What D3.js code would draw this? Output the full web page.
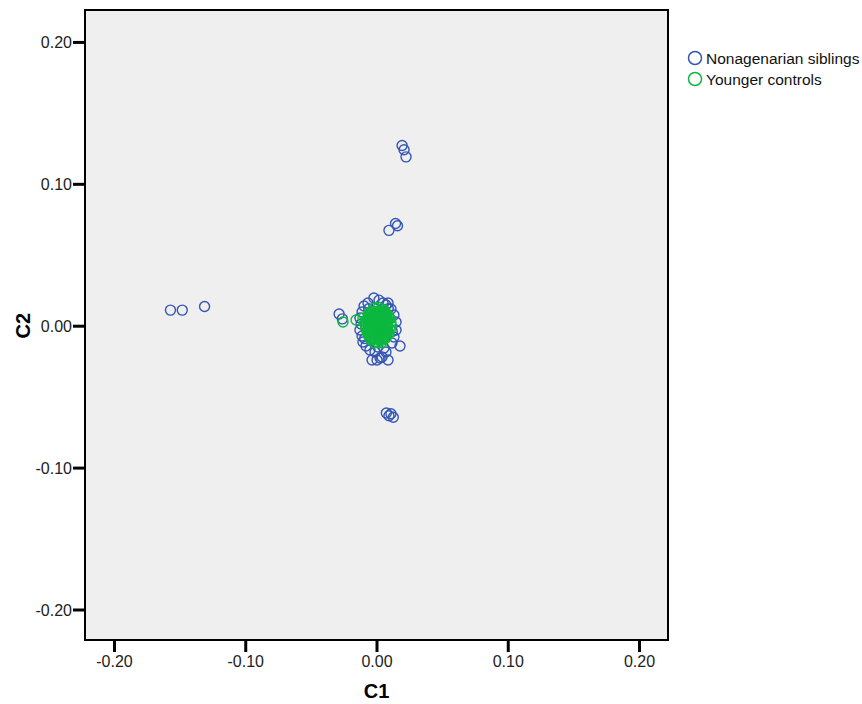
<!DOCTYPE html>
<html>
<head>
<meta charset="utf-8">
<script src="https://cdn.jsdelivr.net/npm/d3@7"></script>
<style>
  body { margin: 0; background: #fff; }
  svg { font-family: "Liberation Sans", Arial, sans-serif; }
</style>
</head>
<body>
<svg id="chart"></svg>
<script>
// tick values
const xTicks = [-0.2, -0.1, 0, 0.1, 0.2];
const yTicks = [-0.2, -0.1, 0, 0.1, 0.2];
const seriesNames = ["Nonagenarian siblings", "Younger controls"];

// Nonagenarian siblings [C1, C2]
const siblings = [
    [-0.157, 0.011], [-0.148, 0.011], [-0.131, 0.0135],
    [0.0195, 0.127], [0.021, 0.124], [0.0225, 0.119],
    [0.0145, 0.072], [0.016, 0.0705], [0.0095, 0.0672],
    [0.0075, -0.0615], [0.0095, -0.0635], [0.011, -0.062], [0.0128, -0.0645],
    [-0.0285, 0.0083], [-0.026, 0.0048],
    [-0.002, 0.0195], [0.005, 0.016], [0.0072, 0.0146], [0.0019, 0.018],
    [-0.0065, 0.016], [-0.0095, 0.0139], [-0.011, 0.0097], [-0.0126, 0.0054],
    [-0.0118, 0.0012], [-0.0126, -0.003], [-0.011, -0.0073], [-0.0103, -0.0115],
    [-0.008, -0.0143], [-0.005, -0.0171], [-0.0011, -0.0185], [-0.0034, -0.0242],
    [0.0004, -0.0242], [0.0027, -0.0228], [0.0042, -0.022], [0.0088, -0.0242],
    [0.0072, -0.0185], [0.0118, -0.0122], [0.0133, -0.008], [0.0179, -0.0143],
    [0.0149, -0.003], [0.0149, 0.0026], [0.0133, 0.0075], [0.011, 0.0118],
    [0.0088, 0.016], [0.0057, -0.0157], [0.001, -0.015], [-0.006, 0.012],
    [0.009, 0.012], [-0.009, -0.009], [0.012, -0.004]
];

// Younger controls [C1, C2]
const controls = [
    [-0.0255, 0.0026], [-0.0156, 0.004], [-0.0103, 0.0054],
    [-0.003, 0.010], [0.000, 0.010], [0.003, 0.010], [0.005, 0.010],
    [-0.0015, 0.0125], [0.0015, 0.013], [0.004, 0.012], [0.0065, 0.0105], [-0.0055, 0.0095],
    [-0.006, 0.0075], [-0.003, 0.0075], [0.000, 0.0075], [0.003, 0.0075], [0.006, 0.0075], [0.008, 0.0075],
    [-0.0045, 0.00875], [-0.0015, 0.00875], [0.0015, 0.00875], [0.0045, 0.00875], [0.007, 0.00875],
    [-0.007, 0.005], [-0.004, 0.005], [-0.001, 0.005], [0.002, 0.005], [0.005, 0.005], [0.008, 0.005], [0.0105, 0.005],
    [-0.0055, 0.00625], [-0.0025, 0.00625], [0.0005, 0.00625], [0.0035, 0.00625], [0.0065, 0.00625], [0.009, 0.0065],
    [-0.008, 0.0025], [-0.005, 0.0025], [-0.002, 0.0025], [0.001, 0.0025], [0.004, 0.0025], [0.007, 0.0025], [0.011, 0.0025],
    [-0.0065, 0.00375], [-0.0035, 0.00375], [-0.0005, 0.00375], [0.0025, 0.00375], [0.0055, 0.00375], [0.0085, 0.00375],
    [-0.0085, 0], [-0.005, 0], [-0.002, 0], [0.001, 0], [0.004, 0], [0.007, 0], [0.0112, 0],
    [-0.0065, 0.00125], [-0.0035, 0.00125], [-0.0005, 0.00125], [0.0025, 0.00125], [0.0055, 0.00125], [0.0085, 0.00125],
    [-0.008, -0.0025], [-0.005, -0.0025], [-0.002, -0.0025], [0.001, -0.0025], [0.004, -0.0025], [0.007, -0.0025], [0.0105, -0.0025],
    [-0.0065, -0.00125], [-0.0035, -0.00125], [-0.0005, -0.00125], [0.0025, -0.00125], [0.0055, -0.00125], [0.0085, -0.00125],
    [-0.007, -0.005], [-0.004, -0.005], [-0.001, -0.005], [0.002, -0.005], [0.005, -0.005], [0.008, -0.005], [0.0095, -0.0055],
    [-0.0065, -0.00375], [-0.0035, -0.00375], [-0.0005, -0.00375], [0.0025, -0.00375], [0.0055, -0.00375], [0.0085, -0.00375],
    [-0.006, -0.0075], [-0.003, -0.0075], [0.000, -0.0075], [0.003, -0.0075], [0.006, -0.0075], [0.008, -0.0075],
    [-0.0055, -0.00625], [-0.0025, -0.00625], [0.0005, -0.00625], [0.0035, -0.00625], [0.0065, -0.00625],
    [-0.004, -0.010], [-0.001, -0.010], [0.002, -0.010], [0.005, -0.010],
    [-0.0045, -0.00875], [-0.0015, -0.00875], [0.0015, -0.00875], [0.0045, -0.00875], [0.007, -0.00875],
    [-0.002, -0.012], [0.001, -0.012], [0.004, -0.012]
];

const colors = ["#3556b4", "#0cb83f"];

const width = 862, height = 704;
const plot = { left: 85, right: 668, top: 10, bottom: 640 };

const svg = d3.select("#chart").attr("width", width).attr("height", height);

const x = d3.scaleLinear().domain([-0.2221, 0.2221]).range([plot.left, plot.right]);
const y = d3.scaleLinear().domain([-0.2215, 0.2225]).range([plot.bottom, plot.top]);

// 刻度格式：普通连字符作负号
const fmt = d => d3.format(".2f")(d).replace("\u2212", "-");

// 背景
svg.append("rect")
    .attr("x", plot.left).attr("y", plot.top)
    .attr("width", plot.right - plot.left).attr("height", plot.bottom - plot.top)
    .attr("fill", "#efefef");

// 坐标轴
const xAxis = svg.append("g")
    .attr("transform", `translate(0,${plot.bottom})`)
    .call(d3.axisBottom(x).tickValues(xTicks).tickFormat(fmt).tickSize(12).tickSizeOuter(0));
const yAxis = svg.append("g")
    .attr("transform", `translate(${plot.left},0)`)
    .call(d3.axisLeft(y).tickValues(yTicks).tickFormat(fmt).tickSize(12).tickSizeOuter(0));

[xAxis, yAxis].forEach(g => {
    g.attr("font-size", null).attr("font-family", null);
    g.select(".domain").remove();
    g.selectAll(".tick line").attr("stroke", "#000").attr("stroke-width", 3);
    g.selectAll(".tick text")
        .style("fill", "#222")
        .style("font-size", "16px")
        .style("font-family", "'Liberation Sans', Arial, sans-serif");
});
xAxis.selectAll(".tick text").attr("y", 16).attr("dy", "0.71em");
yAxis.selectAll(".tick text").attr("x", -13).attr("dy", "0.36em");

// 数据点
[siblings, controls].forEach((data, i) => {
    svg.append("g").selectAll("circle")
        .data(data)
        .join("circle")
        .attr("cx", d => x(d[0]))
        .attr("cy", d => y(d[1]))
        .attr("r", 5)
        .attr("fill", "none")
        .attr("stroke", colors[i])
        .attr("stroke-width", 1.4);
});

// 边框
svg.append("rect")
    .attr("x", plot.left).attr("y", plot.top)
    .attr("width", plot.right - plot.left).attr("height", plot.bottom - plot.top)
    .attr("fill", "none").attr("stroke", "#000").attr("stroke-width", 2);

// 轴标题
svg.append("text")
    .attr("x", x(0)).attr("y", 698)
    .attr("text-anchor", "middle")
    .attr("font-size", "20px").attr("font-weight", "bold")
    .text("C1");
svg.append("text")
    .attr("transform", `translate(30,${y(0)}) rotate(-90)`)
    .attr("text-anchor", "middle")
    .attr("font-size", "20px").attr("font-weight", "bold")
    .text("C2");

// 图例
seriesNames.forEach((name, i) => {
    const ly = 58 + i * 21;
    svg.append("circle")
        .attr("cx", 695).attr("cy", ly).attr("r", 6.5)
        .attr("fill", "none").attr("stroke", colors[i]).attr("stroke-width", 1.5);
    svg.append("text")
        .attr("x", 706).attr("y", ly + 5.5)
        .attr("font-size", "15.5px").attr("fill", "#111")
        .text(name);
});
</script>
</body>
</html>
